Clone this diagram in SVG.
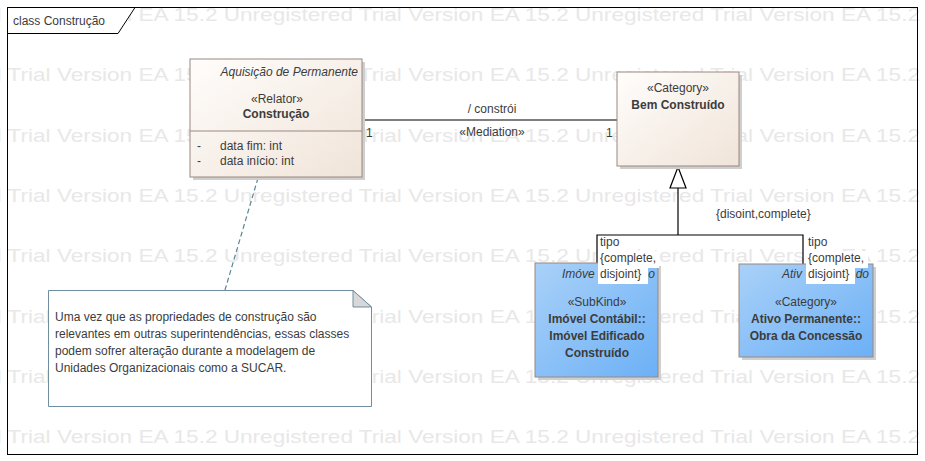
<svg xmlns="http://www.w3.org/2000/svg" width="925" height="461" viewBox="0 0 925 461">
<style>
text{font-family:"Liberation Sans",Arial,sans-serif;font-size:12px;fill:#3c3c3c}
.wm{font-size:19px;fill:#e8e8e8}
.b{font-weight:bold}
.i{font-style:italic}
.c{text-anchor:middle}
.e{text-anchor:end}
.node{stroke:#9a8880;stroke-width:1}
.shadow{fill:#cfcfcf}
.line{stroke:#000;stroke-width:1.2;fill:none}
.lbl{fill:#fff}
</style>
<defs>
<linearGradient id="gBeige" x1="0" y1="0" x2="1" y2="1">
<stop offset="0" stop-color="#fffdfb"/>
<stop offset="1" stop-color="#f0e4d9"/>
</linearGradient>
<linearGradient id="gBlue" x1="0" y1="0" x2="1" y2="1">
<stop offset="0" stop-color="#a9d1f8"/>
<stop offset="1" stop-color="#6cb0f6"/>
</linearGradient>
</defs>
<rect width="925" height="461" fill="#fff"/>
<g id="watermark">
<text class="wm" transform="translate(-127.5,20.5) scale(1.188,1)">Unregistered Trial Version EA 15.2 Unregistered Trial Version EA 15.2 Unregistered Trial Version EA 15.2 Unregistered</text>
<text class="wm" transform="translate(-127.5,81) scale(1.188,1)">Unregistered Trial Version EA 15.2 Unregistered Trial Version EA 15.2 Unregistered Trial Version EA 15.2 Unregistered</text>
<text class="wm" transform="translate(-127.5,141.5) scale(1.188,1)">Unregistered Trial Version EA 15.2 Unregistered Trial Version EA 15.2 Unregistered Trial Version EA 15.2 Unregistered</text>
<text class="wm" transform="translate(-127.5,202) scale(1.188,1)">Unregistered Trial Version EA 15.2 Unregistered Trial Version EA 15.2 Unregistered Trial Version EA 15.2 Unregistered</text>
<text class="wm" transform="translate(-127.5,262) scale(1.188,1)">Unregistered Trial Version EA 15.2 Unregistered Trial Version EA 15.2 Unregistered Trial Version EA 15.2 Unregistered</text>
<text class="wm" transform="translate(-127.5,322.5) scale(1.188,1)">Unregistered Trial Version EA 15.2 Unregistered Trial Version EA 15.2 Unregistered Trial Version EA 15.2 Unregistered</text>
<text class="wm" transform="translate(-127.5,383) scale(1.188,1)">Unregistered Trial Version EA 15.2 Unregistered Trial Version EA 15.2 Unregistered Trial Version EA 15.2 Unregistered</text>
<text class="wm" transform="translate(-127.5,443) scale(1.188,1)">Unregistered Trial Version EA 15.2 Unregistered Trial Version EA 15.2 Unregistered Trial Version EA 15.2 Unregistered</text>
</g>
<g id="frame">
<rect x="7.5" y="7.5" width="910" height="447" fill="none" stroke="#000" stroke-width="1"/>
<polygon points="7.5,7.5 135,7.5 118,33.5 7.5,33.5" fill="#fff" stroke="#000" stroke-width="1"/>
<text x="13" y="25" fill="#000">class Construção</text>
</g>
<g id="connectors">
<line class="line" x1="362" y1="120" x2="617" y2="120"/>
<text class="c" x="492" y="113">/ constrói</text>
<text class="c" x="492" y="136">«Mediation»</text>
<text x="366" y="137">1</text>
<text x="606" y="137">1</text>
<line x1="258" y1="178" x2="225" y2="290" stroke="#5b8696" stroke-width="1.2" stroke-dasharray="5,3"/>
<polyline class="line" points="597,263 597,235 803,235 803,264"/>
<line class="line" x1="678" y1="235" x2="678" y2="188"/>
<polygon points="678,167 670,188 686,188" fill="#fff" stroke="#000" stroke-width="1.2"/>
<text x="716" y="218">{disoint,complete}</text>
</g>
<g id="construcao">
<rect class="shadow" x="193" y="62" width="172" height="118"/>
<rect class="node" x="190" y="59" width="172" height="118" fill="url(#gBeige)"/>
<line x1="190" y1="131" x2="362" y2="131" stroke="#9a8880"/>
<text class="i e" x="358" y="76">Aquisição de Permanente</text>
<text class="c" x="277" y="103">«Relator»</text>
<text class="c b" x="276" y="118">Construção</text>
<text x="197" y="150">-</text>
<text x="220" y="150">data fim: int</text>
<text x="197" y="165">-</text>
<text x="220" y="165">data início: int</text>
</g>
<g id="bem-construido">
<rect class="shadow" x="620" y="75" width="122" height="94"/>
<rect class="node" x="617" y="72" width="122" height="94" fill="url(#gBeige)"/>
<text class="c" x="678" y="92">«Category»</text>
<text class="c b" x="678" y="109">Bem Construído</text>
</g>
<g id="imovel">
<rect class="shadow" x="538" y="266" width="123" height="114"/>
<rect class="node" x="535" y="263" width="123" height="114" fill="url(#gBlue)"/>
<text class="i" x="562" y="278">Imóve</text>
<text class="i e" x="655" y="278">o</text>
<text class="c" x="597" y="306">«SubKind»</text>
<text class="c b" x="597" y="323">Imóvel Contábil::</text>
<text class="c b" x="597" y="340">Imóvel Edificado</text>
<text class="c b" x="597" y="357">Construído</text>
</g>
<g id="ativo">
<rect class="shadow" x="742" y="267" width="134" height="93"/>
<rect class="node" x="739" y="264" width="134" height="93" fill="url(#gBlue)"/>
<text class="i" x="782" y="278">Ativ</text>
<text class="i e" x="869" y="278">do</text>
<text class="c" x="806" y="306">«Category»</text>
<text class="c b" x="806" y="323">Ativo Permanente::</text>
<text class="c b" x="806" y="340">Obra da Concessão</text>
</g>
<g id="gen-labels">
<rect class="lbl" x="598" y="236" width="28" height="16"/>
<rect class="lbl" x="598" y="251" width="61" height="17"/>
<rect class="lbl" x="598" y="267" width="50" height="17"/>
<text x="600" y="246">tipo</text>
<text x="600" y="262">{complete,</text>
<text x="600" y="278">disjoint}</text>
<rect class="lbl" x="806" y="236" width="28" height="16"/>
<rect class="lbl" x="806" y="251" width="62" height="17"/>
<rect class="lbl" x="806" y="267" width="49" height="17"/>
<text x="808" y="246">tipo</text>
<text x="808" y="262">{complete,</text>
<text x="808" y="278">disjoint}</text>
</g>
<g id="note">
<polygon points="48.5,290.5 353,290.5 371.5,307 371.5,406.5 48.5,406.5" fill="#fff" stroke="#6f8fa0" stroke-width="1"/>
<polygon points="353,290.5 353,307 371.5,307" fill="#d8d8d8" stroke="#6f8fa0" stroke-width="1"/>
<text x="55" y="321">Uma vez que as propriedades de construção são</text>
<text x="55" y="338">relevantes em outras superintendências, essas classes</text>
<text x="55" y="355">podem sofrer alteração durante a modelagem de</text>
<text x="55" y="372">Unidades Organizacionais como a SUCAR.</text>
</g>
</svg>
